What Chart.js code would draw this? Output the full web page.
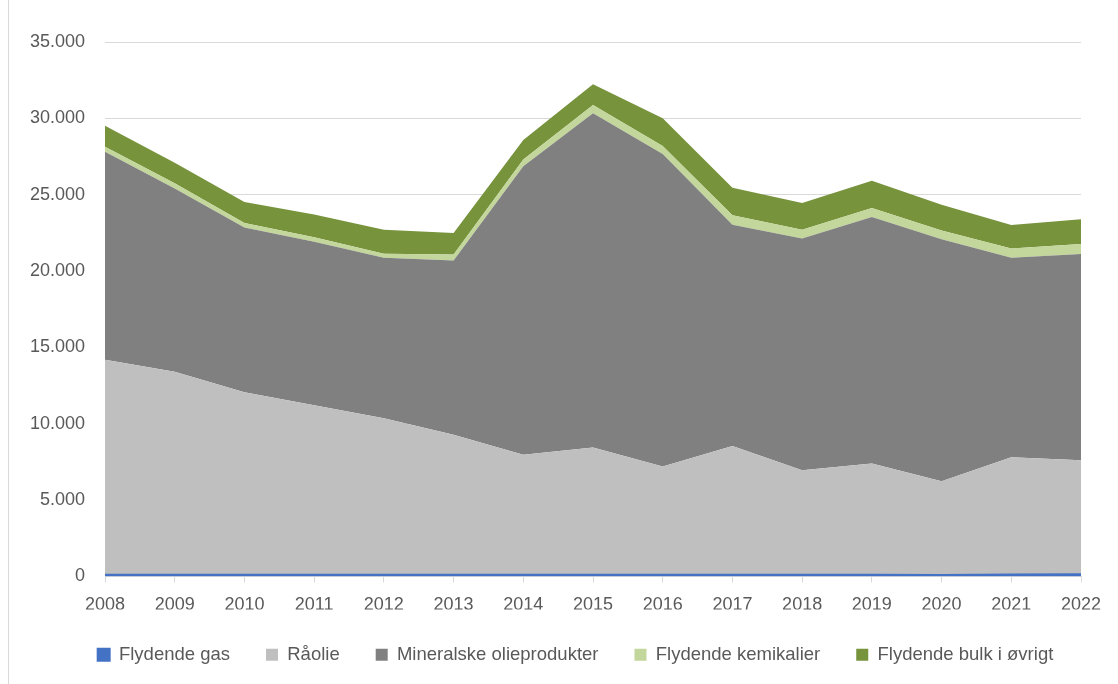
<!DOCTYPE html>
<html>
<head>
<meta charset="utf-8">
<script src="https://cdn.jsdelivr.net/npm/chart.js@4"></script>
<style>
  html, body { margin: 0; padding: 0; background: #fff; }
  #wrap { position: relative; width: 1118px; height: 684px; }
  #frame { position: absolute; left: 8px; top: 0; width: 1110px; height: 684px; border-left: 1px solid #d9d9d9; box-sizing: border-box; pointer-events: none; }
</style>
</head>
<body>
<div id="wrap">
  <canvas id="c" width="1118" height="684"></canvas>
  <div id="frame"></div>
</div>
<script>
const years = ['2008','2009','2010','2011','2012','2013','2014','2015','2016','2017','2018','2019','2020','2021','2022'];
const flydendeGas = [120,120,120,120,120,120,120,120,120,120,120,120,100,130,140];
const raaolie = [14080,13280,11940,11100,10250,9170,7860,8330,7080,8430,6830,7280,6130,7680,7480];
const mineralske = [13610,12000,10800,10700,10500,11410,18890,21880,20460,14480,15190,16140,15850,13070,13490];
const kemikalier = [330,350,290,300,270,390,440,550,530,620,570,590,570,590,660];
const bulk = [1380,1350,1370,1490,1570,1400,1270,1360,1810,1800,1750,1780,1700,1540,1620];
const seriesNames = ['Flydende gas','Råolie','Mineralske olieprodukter','Flydende kemikalier','Flydende bulk i øvrigt'];
const yTicks = [0,5000,10000,15000,20000,25000,30000,35000];

const colors = ['#4472C4','#BFBFBF','#808080','#C3D69B','#77933C'];
const dataArr = [flydendeGas, raaolie, mineralske, kemikalier, bulk];

function fmt(v){ return String(v).replace(/\B(?=(\d{3})+(?!\d))/g,'.'); }

const datasets = dataArr.map((d,i)=>({
  label: seriesNames[i],
  data: d,
  backgroundColor: colors[i],
  borderColor: colors[i],
  borderWidth: i===0 ? 2 : 0,
  pointRadius: 0,
  pointHoverRadius: 0,
  fill: i===0 ? 'origin' : '-1',
  tension: 0
}));

const FONT = '"Liberation Sans", Arial, sans-serif';

const shiftLegend = {
  id: 'shiftLegend',
  afterLayout(chart) {
    if (chart.legend) { chart.legend.left += 35; chart.legend.right += 35; }
  }
};

new Chart(document.getElementById('c'), {
  type: 'line',
  data: { labels: years, datasets: datasets },
  plugins: [shiftLegend],
  options: {
    responsive: false,
    animation: false,
    layout: { padding: { left: 0, right: 37, top: 42, bottom: 10 } },
    plugins: {
      legend: {
        position: 'bottom',
        labels: {
          boxWidth: 12, boxHeight: 12,
          padding: 36,
          color: '#595959',
          font: { family: FONT, size: 18.5 }
        }
      },
      tooltip: { enabled: false }
    },
    scales: {
      x: {
        offset: false,
        grid: { drawOnChartArea: false, drawTicks: true, tickLength: 6, color: '#d9d9d9' },
        border: { color: '#d9d9d9', width: 1 },
        ticks: { color: '#595959', font: { family: FONT, size: 18 }, padding: 12, maxRotation: 0, autoSkip: false },
        afterFit: s => { s.height = 33; }
      },
      y: {
        stacked: true,
        min: 0, max: 35000,
        afterBuildTicks: s => { s.ticks = yTicks.map(v=>({value:v})); },
        grid: { color: '#d9d9d9', drawTicks: false, lineWidth: 1 },
        border: { display: false },
        ticks: { color: '#595959', font: { family: FONT, size: 18 }, padding: 20, callback: v => fmt(v) },
        afterFit: s => { s.width = 105; }
      }
    }
  }
});
</script>
</body>
</html>
